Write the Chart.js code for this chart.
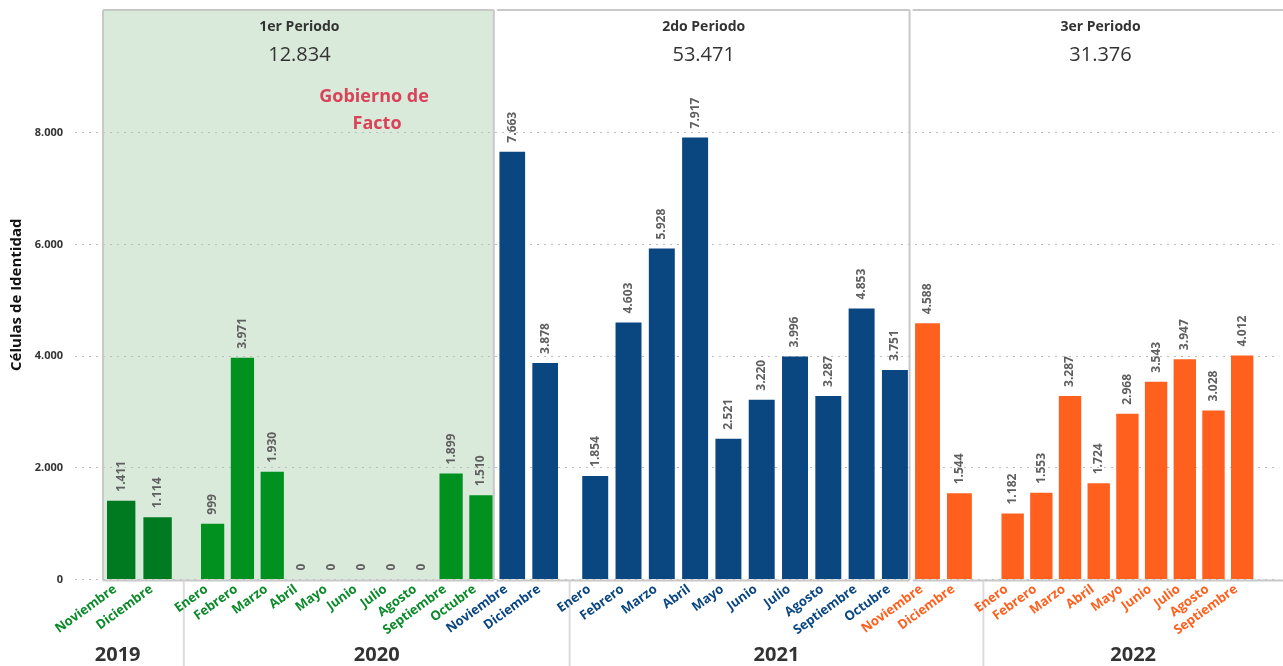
<!DOCTYPE html>
<html lang="es">
<head>
<meta charset="utf-8">
<title>Cédulas de Identidad por periodo</title>
<script src="https://cdn.jsdelivr.net/npm/chart.js@4.4.1/dist/chart.umd.min.js"></script>
<style>
  html, body { margin: 0; padding: 0; background: #fff; }
  canvas { display: block; }
</style>
</head>
<body>
<canvas id="grafico" width="1283" height="666"></canvas>
<script>
// ========== Datos ==========
const periodos = ['1er Periodo', '2do Periodo', '3er Periodo'];

const meses1 = ['Noviembre', 'Diciembre', 'Enero', 'Febrero', 'Marzo', 'Abril', 'Mayo', 'Junio', 'Julio', 'Agosto', 'Septiembre', 'Octubre'];
const anios1 = [2019, 2019, 2020, 2020, 2020, 2020, 2020, 2020, 2020, 2020, 2020, 2020];
const valores1 = [1411, 1114, 999, 3971, 1930, 0, 0, 0, 0, 0, 1899, 1510];

const meses2 = ['Noviembre', 'Diciembre', 'Enero', 'Febrero', 'Marzo', 'Abril', 'Mayo', 'Junio', 'Julio', 'Agosto', 'Septiembre', 'Octubre'];
const anios2 = [2020, 2020, 2021, 2021, 2021, 2021, 2021, 2021, 2021, 2021, 2021, 2021];
const valores2 = [7663, 3878, 1854, 4603, 5928, 7917, 2521, 3220, 3996, 3287, 4853, 3751];

const meses3 = ['Noviembre', 'Diciembre', 'Enero', 'Febrero', 'Marzo', 'Abril', 'Mayo', 'Junio', 'Julio', 'Agosto', 'Septiembre'];
const anios3 = [2021, 2021, 2022, 2022, 2022, 2022, 2022, 2022, 2022, 2022, 2022];
const valores3 = [4588, 1544, 1182, 1553, 3287, 1724, 2968, 3543, 3947, 3028, 4012];

const ticksY = [0, 2000, 4000, 6000, 8000];

// ========== Estilo y disposición ==========
const FUENTE = "'Open Sans', 'Noto Sans', sans-serif";
const colorBarra = ['#00911f', '#0a4680', '#ff601e'];
const colorBarra2019 = '#007a21';
const colorTexto = ['#0b8a2a', '#0a4680', '#ff601e'];

// ancho (px) de cada panel periodo×año y hueco libre antes de cada uno
const anchoPanel = [73, 299, 66, 334, 64, 259];
const huecoPanel = [0, 22, 0, 17, 0, 23];
const huecoFinal = 23;
const ALTO_EJE_X = 86.5;

/**
 * Formato con punto de miles (1.411)
 */
function formatear(v) {
  return String(Math.round(v)).replace(/\B(?=(\d{3})+(?!\d))/g, '.');
}

// ========== Paneles (periodo × año) ==========
const series = [
  { meses: meses1, anios: anios1, valores: valores1 },
  { meses: meses2, anios: anios2, valores: valores2 },
  { meses: meses3, anios: anios3, valores: valores3 }
];

const paneles = [];
series.forEach((s, p) => {
  s.anios.forEach((anio, i) => {
    let ult = paneles[paneles.length - 1];
    if (!ult || ult.periodo !== p || ult.anio !== anio) {
      ult = { id: 'x' + paneles.length, periodo: p, anio: anio, meses: [], valores: [] };
      paneles.push(ult);
    }
    ult.meses.push(s.meses[i]);
    ult.valores.push(s.valores[i]);
  });
});

/**
 * Eje X vacío que sólo ocupa espacio entre paneles
 */
function escalaHueco(ancho) {
  return {
    type: 'category',
    position: 'bottom',
    stack: 'meses',
    stackWeight: ancho,
    labels: [''],
    grid: { display: false, drawTicks: false },
    border: { display: false },
    ticks: { display: false },
    afterFit: (eje) => { eje.height = ALTO_EJE_X; }
  };
}

const escalas = {
  y: {
    position: 'left',
    min: 0,
    max: 10200,
    afterBuildTicks: (eje) => { eje.ticks = ticksY.map(v => ({ value: v })); },
    afterFit: (eje) => {
      eje.width = 103;
      // sin margen extra arriba/abajo para que el área empiece en y=10
      eje.paddingTop = 0;
      eje.paddingBottom = 0;
    },
    ticks: {
      padding: 12,
      color: '#333',
      font: { family: FUENTE, size: 11, weight: 'bold' },
      callback: (v) => formatear(v)
    },
    grid: {
      color: '#bdbdbd',
      lineWidth: 1,
      tickLength: 28,
      tickColor: '#bdbdbd',
      tickBorderDash: [2, 5]
    },
    border: { display: false, dash: [2, 5] },
    title: {
      display: true,
      text: 'Células de Identidad',
      color: '#111',
      font: { family: FUENTE, size: 15, weight: 'bold' },
      padding: { top: 8, bottom: 0 }
    }
  }
};

paneles.forEach((pan, i) => {
  if (huecoPanel[i]) escalas['h' + i] = escalaHueco(huecoPanel[i]);
  escalas[pan.id] = {
    type: 'category',
    position: 'bottom',
    stack: 'meses',
    stackWeight: anchoPanel[i],
    labels: pan.meses,
    offset: true,
    grid: { display: false, drawTicks: false },
    border: { display: false },
    ticks: {
      autoSkip: false,
      minRotation: 36,
      maxRotation: 36,
      padding: 2,
      labelOffset: -6,
      color: colorTexto[pan.periodo],
      font: { family: FUENTE, size: 13, weight: 'bold' }
    },
    afterFit: (eje) => { eje.height = ALTO_EJE_X; }
  };
});
escalas.hFin = escalaHueco(huecoFinal);

// ========== Dibujo de paneles, rótulos y años ==========
/**
 * Límites horizontales de cada periodo según sus ejes
 */
function limitesPeriodos(chart) {
  const lim = periodos.map(() => ({ left: Infinity, right: -Infinity }));
  paneles.forEach(pan => {
    const eje = chart.scales[pan.id];
    lim[pan.periodo].left = Math.min(lim[pan.periodo].left, eje.left);
    lim[pan.periodo].right = Math.max(lim[pan.periodo].right, eje.right);
  });
  lim[0].left = chart.chartArea.left;
  // el último periodo continúa fuera del recorte
  lim[lim.length - 1].right = chart.chartArea.right + 10;
  return lim;
}

/**
 * Posiciones x donde cambia el año, con el año de cada tramo
 */
function cortesAnio(chart) {
  const cortes = [chart.chartArea.left / 2];
  const anios = [paneles[0].anio];
  for (let i = 1; i < paneles.length; i++) {
    if (paneles[i].anio === paneles[i - 1].anio) continue;
    const a = chart.scales[paneles[i - 1].id].right;
    const b = chart.scales[paneles[i].id].left;
    cortes.push(a + Math.min(8, (b - a) / 2));
    anios.push(paneles[i].anio);
  }
  cortes.push(chart.width);
  return { cortes, anios };
}

const pluginPaneles = {
  id: 'paneles',
  beforeDraw(chart) {
    const { ctx, chartArea } = chart;
    const l = limitesPeriodos(chart)[0];
    ctx.save();
    ctx.fillStyle = '#d9eadb';
    ctx.fillRect(l.left, chartArea.top, l.right - l.left - 2, chartArea.bottom - chartArea.top);

    // separadores de año, por detrás de los meses
    ctx.strokeStyle = '#dcdcdc';
    ctx.lineWidth = 2;
    cortesAnio(chart).cortes.slice(1, -1).forEach(x => {
      ctx.beginPath();
      ctx.moveTo(x, chartArea.bottom + 2);
      ctx.lineTo(x, chart.height);
      ctx.stroke();
    });
    ctx.restore();
  },
  beforeDatasetsDraw(chart) {
    // marco de cada periodo: arriba, abajo y a la derecha (y el borde izquierdo del primero)
    const { ctx, chartArea } = chart;
    const lim = limitesPeriodos(chart);
    const top = chartArea.top;
    const bottom = chartArea.bottom + 1;
    ctx.save();
    ctx.strokeStyle = '#c8c8c8';
    ctx.lineWidth = 2;
    ctx.beginPath();
    lim.forEach((l, p) => {
      const izq = p === 0 ? l.left : l.left + 1;
      const der = l.right - 2;
      ctx.moveTo(izq, top);
      ctx.lineTo(der, top);
      ctx.moveTo(izq, bottom);
      ctx.lineTo(der, bottom);
      if (p === 0) {
        ctx.moveTo(izq, top);
        ctx.lineTo(izq, bottom);
      }
      if (p < lim.length - 1) {
        ctx.moveTo(der, top);
        ctx.lineTo(der, bottom);
      }
    });
    ctx.stroke();
    ctx.restore();
  },
  afterDatasetsDraw(chart) {
    // valores sobre cada barra, en vertical
    const { ctx } = chart;
    ctx.save();
    ctx.fillStyle = '#5f5f5f';
    ctx.font = `bold 12px ${FUENTE}`;
    ctx.textAlign = 'left';
    ctx.textBaseline = 'middle';
    chart.data.datasets.forEach((ds, i) => {
      chart.getDatasetMeta(i).data.forEach((barra, j) => {
        ctx.save();
        ctx.translate(barra.x, barra.y - 9);
        ctx.rotate(-Math.PI / 2);
        ctx.fillText(formatear(ds.data[j]), 0, 0);
        ctx.restore();
      });
    });
    ctx.restore();
  },
  afterDraw(chart) {
    const { ctx } = chart;
    const lim = limitesPeriodos(chart);
    ctx.save();
    ctx.textAlign = 'center';
    ctx.textBaseline = 'middle';

    // encabezado de cada periodo con su total
    series.forEach((s, p) => {
      const cx = (lim[p].left + lim[p].right) / 2;
      ctx.fillStyle = '#333';
      ctx.font = `bold 14px ${FUENTE}`;
      ctx.fillText(periodos[p], cx, 27);
      ctx.font = `20px ${FUENTE}`;
      ctx.fillText(formatear(s.valores.reduce((a, b) => a + b, 0)), cx, 55);
    });

    // nota del primer periodo
    const gx = lim[0].left + (lim[0].right - lim[0].left) * 0.69;
    ctx.fillStyle = '#d9435a';
    ctx.font = `bold 18px ${FUENTE}`;
    ctx.fillText('Gobierno de', gx, 97);
    ctx.fillText('Facto', gx + 3, 124);

    // años bajo los meses
    const { cortes, anios } = cortesAnio(chart);
    ctx.fillStyle = '#333';
    ctx.font = `bold 20px ${FUENTE}`;
    anios.forEach((anio, i) => {
      ctx.fillText(String(anio), (cortes[i] + cortes[i + 1]) / 2, 655);
    });
    ctx.restore();
  }
};

// ========== Gráfico ==========
function initChart() {
  const ctx = document.getElementById('grafico').getContext('2d');
  return new Chart(ctx, {
    type: 'bar',
    data: {
      datasets: paneles.map(pan => ({
        label: pan.anio + ' ' + periodos[pan.periodo],
        data: pan.valores,
        xAxisID: pan.id,
        yAxisID: 'y',
        backgroundColor: pan.anio === 2019 ? colorBarra2019 : colorBarra[pan.periodo],
        grouped: false,
        barPercentage: 0.78,
        categoryPercentage: 1
      }))
    },
    options: {
      responsive: false,
      animation: false,
      layout: { padding: { top: 10, left: 0, right: 0, bottom: 0 } },
      plugins: {
        legend: { display: false },
        tooltip: { enabled: false }
      },
      scales: escalas
    },
    plugins: [pluginPaneles]
  });
}

initChart();
</script>
</body>
</html>
